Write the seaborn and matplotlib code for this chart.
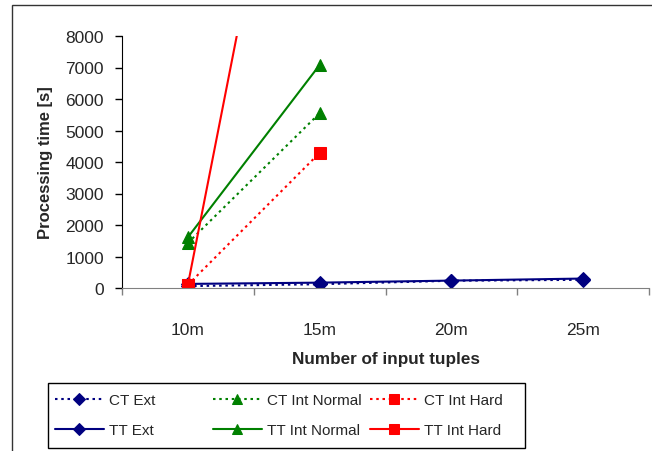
import numpy as np
import pandas as pd
import matplotlib
matplotlib.use('Agg')
import matplotlib.pyplot as plt
import seaborn as sns
from matplotlib.patches import Rectangle

# values
categories = ['10m', '15m', '20m', '25m']
ct_ext = [60, 120, 230, 260]
tt_ext = [130, 170, 235, 300]
ct_int_normal = [1430, 5550, np.nan, np.nan]
tt_int_normal = [1610, 7080, np.nan, np.nan]
ct_int_hard = [100, 4290, np.nan, np.nan]
tt_int_hard = [100, 21400, np.nan, np.nan]

series = [
    ('CT Ext', ct_ext, '#000080', 'D', 'dot'),
    ('TT Ext', tt_ext, '#000080', 'D', 'solid'),
    ('CT Int Normal', ct_int_normal, '#008000', '^', 'dot'),
    ('TT Int Normal', tt_int_normal, '#008000', '^', 'solid'),
    ('CT Int Hard', ct_int_hard, '#FF0000', 's', 'dot'),
    ('TT Int Hard', tt_int_hard, '#FF0000', 's', 'solid'),
]

sns.set_style('white')
plt.rcParams['font.family'] = ['Liberation Sans', 'DejaVu Sans']

fig = plt.figure(figsize=(6.52, 4.52), dpi=100)
ax = fig.add_axes([122 / 652, 1 - 289 / 452, (649 - 122) / 652, (289 - 37) / 452])

x = np.arange(len(categories))
msize = {'D': 7, '^': 8, 's': 8}
for name, vals, color, marker, style in series:
    df = pd.DataFrame({'x': x, 'y': vals})
    ls = (0, (1.2, 1.8)) if style == 'dot' else '-'
    sns.lineplot(data=df, x='x', y='y', ax=ax, color=color, marker=marker,
                 markersize=msize[marker], markeredgecolor=color, linewidth=1.5,
                 linestyle=ls, label=name, legend=False)

ax.set_xlim(-0.5, 3.5)
ax.set_ylim(0, 8000)
ax.set_yticks(range(0, 8001, 1000))
ax.set_xticks(x)
ax.set_xticklabels(categories)
ax.set_xticks(np.arange(-0.5, 3.6, 1), minor=True)
ax.tick_params(axis='x', which='major', bottom=False, pad=21, labelsize=12.5)
ax.tick_params(axis='x', which='minor', bottom=True, length=5, width=1, color='#808080', direction='out')
ax.tick_params(axis='y', left=True, length=5, width=1, color='black', direction='out', pad=8, labelsize=12.5)

for s in ['top', 'right']:
    ax.spines[s].set_visible(False)
ax.spines['left'].set_color('black')
ax.spines['bottom'].set_color('#808080')

ax.set_xlabel('Number of input tuples', fontsize=12.3, fontweight='bold', labelpad=10)
ax.set_ylabel('Processing time [s]', fontsize=12, fontweight='bold', labelpad=9)

# legend: a frame with three equal-width columns, as in the original
handles, labels = ax.get_legend_handles_labels()
fig.patches.append(Rectangle((48 / 652, 1 - 449 / 452), (525 - 48) / 652, (449 - 384) / 452,
                             transform=fig.transFigure, fill=False, edgecolor='black', linewidth=1))
col_x = [55, 213, 370]
for i, cx in enumerate(col_x):
    leg = fig.legend(handles[2 * i:2 * i + 2], labels[2 * i:2 * i + 2], loc='upper left',
                     bbox_to_anchor=(cx / 652, 1 - 394 / 452), frameon=False, fontsize=11,
                     handlelength=3.2, handletextpad=0.35, borderpad=0, borderaxespad=0,
                     labelspacing=1.05, markerscale=0.85)

# outer chart border
fig.patches.append(Rectangle((12 / 652, -0.1), 1.0, 1 - 6 / 452 + 0.1, transform=fig.transFigure,
                             fill=False, edgecolor='#333333', linewidth=1))

fig.savefig('out.png', dpi=100)
